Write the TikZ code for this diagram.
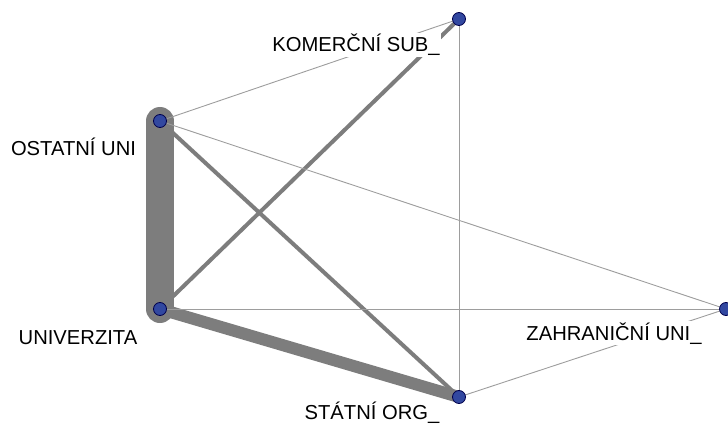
\documentclass[tikz,border=0pt]{standalone}
\usepackage{fontspec}
\setmainfont{Liberation Sans}
\begin{document}
\begin{tikzpicture}[x=1pt,y=-1pt,
  vertex/.style={circle,draw=black!70!blue,fill=vblue,line width=0.8pt,minimum size=13pt,inner sep=0pt},
  lbl/.style={fill=white,inner sep=1pt,anchor=base,font=\fontsize{20.2}{23}\selectfont},
  tie/.style={draw=tiegray,line cap=round},
  thin/.style={draw=tiegray!75,line width=0.9pt}]
\definecolor{vblue}{RGB}{50,72,160}
\definecolor{tiegray}{RGB}{125,125,125}
\useasboundingbox (0,0) rectangle (728,433);
% actors
\coordinate (kom) at (459,19);
\coordinate (ost) at (160,121);
\coordinate (uni) at (160,309);
\coordinate (zah) at (726,309);
\coordinate (sta) at (459,397);
% ties, weighted by width
\draw[tie,line width=28pt] (ost) -- (uni);
\draw[tie,line width=12pt] (uni) -- (sta);
\draw[tie,line width=4pt] (ost) -- (sta);
\draw[tie,line width=4pt] (uni) -- (kom);
\draw[thin] (ost) -- (kom);
\draw[thin] (ost) -- (zah);
\draw[thin] (uni) -- (zah);
\draw[thin] (kom) -- (sta);
\draw[thin] (sta) -- (zah);
% labels
\node[lbl] (lkom) at (356,52) {KOMERČNÍ SUB\_};
\node[lbl] (lost) at (73.5,155) {OSTATNÍ UNI};
\node[lbl] (luni) at (78,344) {UNIVERZITA};
\node[lbl] (lzah) at (614,340) {ZAHRANIČNÍ UNI\_};
\node[lbl] (lsta) at (372,419) {STÁTNÍ ORG\_};
% vertices
\foreach \v in {kom,ost,uni,zah,sta}
  \node[vertex] (n\v) at (\v) {};
\end{tikzpicture}
\end{document}
